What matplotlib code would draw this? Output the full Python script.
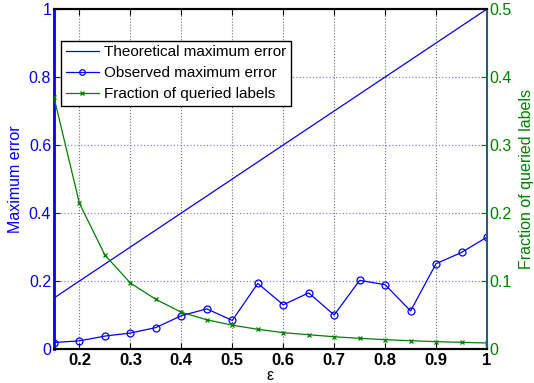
import matplotlib.pyplot as plt

plt.rcParams['font.family'] = ['Liberation Sans', 'DejaVu Sans']

# epsilon values
eps = [0.15, 0.2, 0.25, 0.3, 0.35, 0.4, 0.45, 0.5, 0.55, 0.6,
       0.65, 0.7, 0.75, 0.8, 0.85, 0.9, 0.95, 1.0]
theoretical = [0.15, 0.2, 0.25, 0.3, 0.35, 0.4, 0.45, 0.5, 0.55, 0.6,
               0.65, 0.7, 0.75, 0.8, 0.85, 0.9, 0.95, 1.0]
observed = [0.019, 0.024, 0.038, 0.047, 0.063, 0.098, 0.118, 0.084, 0.193, 0.130,
            0.165, 0.100, 0.202, 0.189, 0.112, 0.251, 0.284, 0.329]
fraction = [0.370, 0.214, 0.138, 0.097, 0.073, 0.054, 0.043, 0.035, 0.029, 0.024,
            0.021, 0.018, 0.0157, 0.0137, 0.0122, 0.0108, 0.0098, 0.0088]

xticks = [0.2, 0.3, 0.4, 0.5, 0.6, 0.7, 0.8, 0.9, 1]
xticklabels = ['0.2', '0.3', '0.4', '0.5', '0.6', '0.7', '0.8', '0.9', '1']
lticks = [0, 0.2, 0.4, 0.6, 0.8, 1]
lticklabels = ['0', '0.2', '0.4', '0.6', '0.8', '1']
rticks = [0, 0.1, 0.2, 0.3, 0.4, 0.5]
rticklabels = ['0', '0.1', '0.2', '0.3', '0.4', '0.5']

blue = '#0000ff'
green = '#008000'

fig = plt.figure(figsize=(5.34, 3.83), dpi=100)
ax = fig.add_axes([54 / 534, 1 - 349 / 383, 433 / 534, 340 / 383])
ax2 = ax.twinx()

l1, = ax.plot(eps, theoretical, color=blue, lw=0.9, label='Theoretical maximum error')
l2, = ax.plot(eps, observed, color=blue, lw=0.9, marker='o', ms=5, mfc='none',
              mew=0.9, label='Observed maximum error')
l3, = ax2.plot(eps, fraction, color=green, lw=0.9, marker='x', ms=3.5, mew=0.9,
               label='Fraction of queried labels')

ax.set_xlim(0.15, 1)
ax.set_ylim(0, 1)
ax2.set_ylim(0, 0.5)

ax.set_xticks(xticks)
ax.set_xticklabels(xticklabels, fontweight='bold', fontsize=12)
ax.set_yticks(lticks)
ax.set_yticklabels(lticklabels, color=blue, fontsize=11.5)
ax2.set_yticks(rticks)
ax2.set_yticklabels(rticklabels, color=green, fontsize=11.5)

ax.tick_params(axis='both', direction='in', length=4, pad=3)
ax.tick_params(axis='y', colors=blue, labelcolor=blue, pad=2)
ax2.tick_params(axis='y', direction='in', length=4, colors=green, labelcolor=green, pad=2)
ax.tick_params(axis='x', top=True)

ax.xaxis.grid(True, linestyle=':', color='#707070', lw=0.8)
ax.yaxis.grid(True, linestyle=':', color='#8080ff', lw=0.9)
ax.set_axisbelow(True)

ax.spines['left'].set_color(blue)
ax.spines['left'].set_linewidth(2)
ax2.spines['left'].set_visible(False)
ax2.spines['right'].set_color('#1f5f80')
ax2.spines['right'].set_linewidth(1.5)
ax.spines['right'].set_visible(False)
for s in ['top', 'bottom']:
    ax.spines[s].set_linewidth(1.5)
    ax2.spines[s].set_linewidth(1.5)

ax.set_xlabel('ε', fontsize=11.5, labelpad=0)
ax.set_ylabel('Maximum error', color=blue, fontsize=11.5, labelpad=4)
ax2.set_ylabel('Fraction of queried labels', color=green, fontsize=11.5, labelpad=5)

leg = ax2.legend(handles=[l1, l2, l3], loc='upper left', bbox_to_anchor=(0.016, 0.907),
                 fontsize=11, fancybox=False, edgecolor='black', framealpha=1,
                 handlelength=2.2, handletextpad=0.3, borderpad=0.3, labelspacing=0.45,
                 borderaxespad=0)
leg.get_frame().set_linewidth(1.0)
for h in leg.legend_handles:
    if h.get_marker() == 'o':
        h.set_markersize(4)

fig.savefig('out.png', dpi=100)
